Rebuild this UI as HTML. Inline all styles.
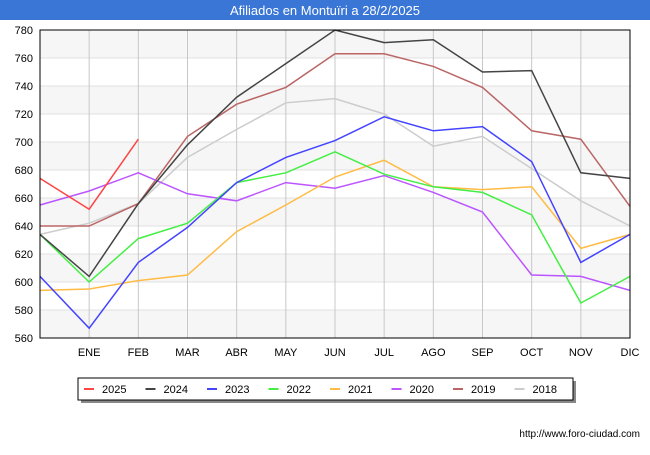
<!DOCTYPE html>
<html><head><meta charset="utf-8"><style>
body{margin:0;width:650px;height:450px;background:#fff;font-family:"Liberation Sans",sans-serif;overflow:hidden}
svg text{font-family:"Liberation Sans",sans-serif}
</style></head><body>
<svg id="c" width="650" height="450">
<rect x="0" y="0" width="650" height="20" fill="#3a76d6"/>
<text x="325" y="15" text-anchor="middle" font-size="13" fill="#fff">Afiliados en Montuïri a 28/2/2025</text>
<g id="grid"></g><g id="series"></g>
<rect x="40" y="30" width="590" height="308" fill="none" stroke="#000"/>
<rect x="81" y="381" width="495" height="22" fill="#888"/>
<rect x="78" y="378" width="495" height="22" fill="#fff" stroke="#000"/>
<g id="legend"></g>
<text x="640" y="437" text-anchor="end" font-size="10" fill="#000">http://www.foro-ciudad.com</text>
</svg>
<script>
const months=["","ENE","FEB","MAR","ABR","MAY","JUN","JUL","AGO","SEP","OCT","NOV","DIC"];
const yTicks=[560,580,600,620,640,660,680,700,720,740,760,780];
const years=["2025","2024","2023","2022","2021","2020","2019","2018"];
const colors=["#ff4444","#444444","#4444ff","#44ee44","#ffbb44","#bb55ff","#bb6666","#cccccc"];
const s2025=[674,652,702];
const s2024=[634,604,656,698,732,756,780,771,773,750,751,678,674];
const s2023=[604,567,614,639,671,689,701,718,708,711,686,614,634];
const s2022=[634,600,631,642,671,678,693,677,668,664,648,585,604];
const s2021=[594,595,601,605,636,655,675,687,668,666,668,624,634];
const s2020=[655,665,678,663,658,671,667,676,664,650,605,604,594];
const s2019=[640,640,656,704,727,739,763,763,754,739,708,702,654];
const s2018=[634,642,656,689,709,728,731,720,697,704,681,658,640];
const series=[s2025,s2024,s2023,s2022,s2021,s2020,s2019,s2018];
const NS="http://www.w3.org/2000/svg";
const x=i=>40+i*(590/12);
const y=v=>338-(v-560)/220*308;
const g=document.getElementById('grid');
function mk(t,a,p){const e=document.createElementNS(NS,t);for(const k in a)e.setAttribute(k,a[k]);p.appendChild(e);return e;}
for(let i=0;i<yTicks.length-1;i++){
 if((yTicks.length-2-i)%2===0){const r=mk('rect',{x:40,y:y(yTicks[i+1]),width:590,height:y(yTicks[i])-y(yTicks[i+1]),fill:'#f6f6f6'},g);
 
 }
}
yTicks.forEach(v=>{
 const l=mk('line',{x1:40,x2:630,y1:y(v),y2:y(v),stroke:'#e0e0e0'},g);
 
 
 const t=mk('text',{x:33,y:y(v)+4,'text-anchor':'end','font-size':11,fill:'#000'},g);t.textContent=v;
 
 
});
months.forEach((m,i)=>{
 if(i>0){const l=mk('line',{x1:x(i),x2:x(i),y1:30,y2:338,stroke:'#c8c8c8'},g);
 
 
 const t=mk('text',{x:x(i),y:356,'text-anchor':'middle','font-size':11,fill:'#000'},g);t.textContent=m;
 
 }
});
const sg=document.getElementById('series');
for(let k=series.length-1;k>=0;k--){
 const p=mk('polyline',{points:series[k].map((v,i)=>x(i)+','+y(v)).join(' '),fill:'none',stroke:colors[k],'stroke-width':1.5},sg);
 
 
}
const lg=document.getElementById('legend');
years.forEach((yr,k)=>{
 const lx=84+k*61.5;
 const l=mk('line',{x1:lx,x2:lx+10,y1:389,y2:389,stroke:colors[k],'stroke-width':2},lg);
 
 
 const t=mk('text',{x:lx+18,y:393,'font-size':11,fill:'#000'},lg);t.textContent=yr;
 
 
});
</script>
</body></html>
